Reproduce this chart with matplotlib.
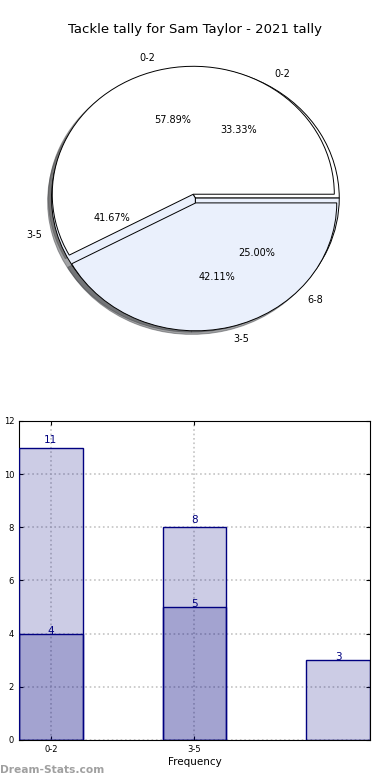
import matplotlib
matplotlib.use('Agg')
import matplotlib.pyplot as plt
import numpy as np

# data
title = 'Tackle tally for Sam Taylor - 2021 tally'
labels_a = ['0-2', '3-5']
values_a = [11, 8]
labels_b = ['0-2', '3-5', '6-8']
values_b = [4, 5, 3]
y_label = 'Stat Total Tally'
x_label = 'Frequency'

plt.rcParams['font.family'] = ['DejaVu Sans']
navy = '#000080'
blue = '#eaf0fc'

fig = plt.figure(figsize=(3.9, 7.8), dpi=100)
fig.text(0.5, 1 - 30 / 780, title, ha='center', va='center', fontsize=9.5)

# pie chart
ax1 = fig.add_axes([0.0436, 0.546, 0.904, 0.41])
ax1.pie(values_b, labels=labels_b, autopct='%1.2f%%', radius=1.02,
        center=(0.015, -0.03),
        colors=['white', blue, blue], shadow=True,
        wedgeprops={'edgecolor': 'black', 'linewidth': 0.7},
        textprops={'fontsize': 7})
ax1.pie(values_a, labels=labels_a, autopct='%1.2f%%', explode=(0, 0.07),
        colors=['white', blue], shadow=True,
        wedgeprops={'edgecolor': 'black', 'linewidth': 0.7},
        textprops={'fontsize': 7})
ax1.set_aspect('auto')
ax1.set_xlim(-1.25, 1.25)
ax1.set_ylim(-1.25, 1.25)

# bar chart
ax2 = fig.add_axes([0.0487, 0.0513, 0.9, 0.409])
w = 0.444
xa = np.arange(len(values_a))
xb = np.arange(len(values_b))
ax2.bar(xa, values_a, width=w, color=navy, alpha=0.2, zorder=2)
ax2.bar(xa, values_a, width=w, fill=False, edgecolor=navy, linewidth=1, zorder=3)
ax2.bar(xb, values_b, width=w, color=navy, alpha=0.2, zorder=2)
ax2.bar(xb, values_b, width=w, fill=False, edgecolor=navy, linewidth=1, zorder=3)
for x, v in zip(xa, values_a):
    ax2.text(x, v + 0.1, str(v), ha='center', va='bottom', color=navy, fontsize=7.5, zorder=4)
for x, v in zip(xb, values_b):
    ax2.text(x, v - 0.08, str(v), ha='center', va='bottom', color=navy, fontsize=7.5, zorder=4)
ax2.set_xlim(-w / 2, len(values_b) - 1 + w / 2)
ax2.set_ylim(0, 12)
ax2.set_yticks(range(0, 13, 2))
ax2.set_xticks(xa)
ax2.set_xticklabels(labels_a)
ax2.tick_params(direction='in', top=True, right=True, labelsize=6, length=3)
ax2.grid(True, linestyle=':', color='#c4c4c4', linewidth=1.2, zorder=1)
ax2.set_axisbelow(True)
ax2.set_xlabel(x_label, fontsize=7.5, labelpad=2)
ax2.set_ylabel(y_label, fontsize=7.5, labelpad=4)
ax2.yaxis.set_label_coords(-0.058, 0.5)

fig.text(0.0, 1 - 770 / 780, 'Dream-Stats.com', ha='left', va='center',
         fontsize=7.7, color='#a0a0a0', fontweight='bold')

fig.savefig('out.png', dpi=100)
